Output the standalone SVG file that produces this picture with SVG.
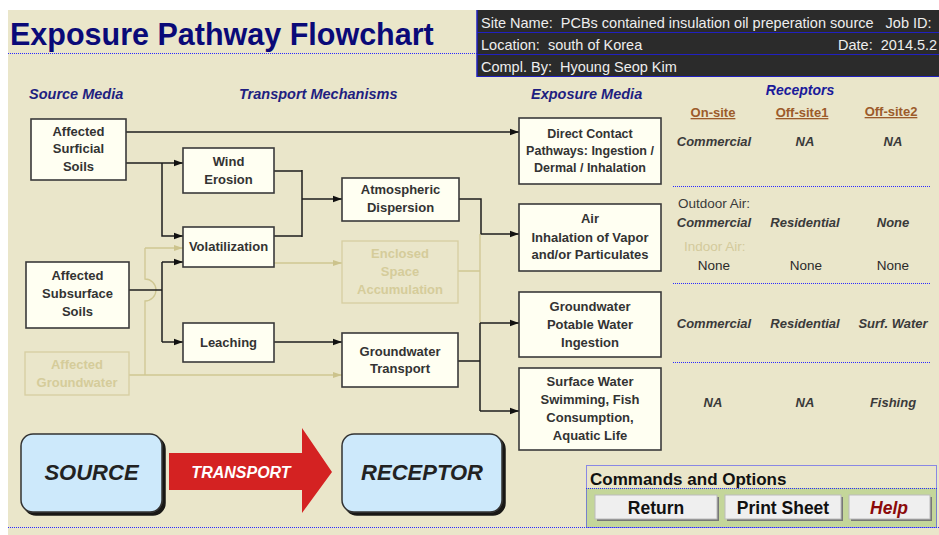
<svg xmlns="http://www.w3.org/2000/svg" width="939" height="535" viewBox="0 0 939 535">
<style>
.bg{fill:#EAE6CA}
.box{fill:#FFFFF2;stroke:#3A3A3A;stroke-width:1.6}
.fbox{fill:none;stroke:#D6CEA0;stroke-width:1.3}
.nt{font-family:"Liberation Sans",Arial,sans-serif;font-weight:bold;font-size:13px;fill:#333;text-anchor:middle}
.nt2{font-family:"Liberation Sans",Arial,sans-serif;font-weight:bold;font-size:12.5px;fill:#333;text-anchor:middle}
.ft{font-family:"Liberation Sans",Arial,sans-serif;font-weight:bold;font-size:13px;fill:#D5CC9A;text-anchor:middle}
.sec{font-family:"Liberation Sans",Arial,sans-serif;font-weight:bold;font-style:italic;font-size:14.5px;fill:#1F1F80}
.rec{font-family:"Liberation Sans",Arial,sans-serif;font-weight:bold;font-style:italic;font-size:14px;fill:#1A1A9A;text-anchor:middle}
.hd{font-family:"Liberation Sans",Arial,sans-serif;font-size:14.5px;fill:#EEEEEE}
.col{font-family:"Liberation Sans",Arial,sans-serif;font-weight:bold;font-size:13px;fill:#9C5B2A;text-anchor:middle;text-decoration:underline}
.rc{font-family:"Liberation Sans",Arial,sans-serif;font-weight:bold;font-style:italic;font-size:13px;fill:#3A3A3A;text-anchor:middle}
.rr{font-family:"Liberation Sans",Arial,sans-serif;font-size:13.5px;fill:#2A2A2A;text-anchor:middle}
.lab{font-family:"Liberation Sans",Arial,sans-serif;font-size:13.5px;fill:#3A3A3A}
.labf{font-family:"Liberation Sans",Arial,sans-serif;font-size:13.5px;fill:#D3CA9C}
.dot{stroke:#2A2AFF;stroke-width:1;stroke-dasharray:1 1;fill:none}
.ln{stroke:#1E1E1E;stroke-width:1.5;fill:none}
.fl{stroke:#CFC792;stroke-width:1.3;fill:none}
.big{font-family:"Liberation Sans",Arial,sans-serif;font-weight:bold;font-style:italic;font-size:22px;fill:#222;text-anchor:middle}
.tr{font-family:"Liberation Sans",Arial,sans-serif;font-weight:bold;font-style:italic;font-size:16px;fill:#FFFFFF;text-anchor:middle}
.btn{fill:#EFEFEF;stroke:#BBB;stroke-width:1}
.bsh{fill:#777}
.bt{font-family:"Liberation Sans",Arial,sans-serif;font-weight:bold;font-size:17.5px;fill:#111;text-anchor:middle}
.help{font-family:"Liberation Sans",Arial,sans-serif;font-weight:bold;font-style:italic;font-size:17.5px;fill:#8B0A0A;text-anchor:middle}
.cmd{font-family:"Liberation Sans",Arial,sans-serif;font-weight:bold;font-size:17px;fill:#111}
.title{font-family:"Liberation Sans",Arial,sans-serif;font-weight:bold;font-size:30.5px;fill:#0A0A78}
</style>
<defs>
<marker id="ah" markerUnits="userSpaceOnUse" markerWidth="10" markerHeight="8" refX="9" refY="4" orient="auto">
<path d="M0,0.8 L9,4 L0,7.2 Z" fill="#111"/>
</marker>
<marker id="fah" markerUnits="userSpaceOnUse" markerWidth="10" markerHeight="8" refX="9" refY="4" orient="auto">
<path d="M0,1 L9,4 L0,7 Z" fill="#CCC38C"/>
</marker>
<filter id="sh" x="-10%" y="-10%" width="130%" height="130%">
<feOffset dx="3" dy="3" in="SourceAlpha" result="o"/>
<feComponentTransfer in="o" result="o2"><feFuncA type="linear" slope="0.9"/></feComponentTransfer>
<feMerge><feMergeNode in="o2"/><feMergeNode in="SourceGraphic"/></feMerge>
</filter>
</defs>

<rect x="0" y="0" width="939" height="535" fill="#FFFFFF"/>
<rect class="bg" x="8" y="10" width="931" height="525"/>

<!-- Title -->
<text class="title" x="10" y="45">Exposure Pathway Flowchart</text>
<line class="dot" x1="8" y1="53.5" x2="477" y2="53.5"/>

<!-- Header info -->
<g id="header">
<rect x="477" y="10" width="462" height="67" fill="#2B2B2B"/>
<line x1="477" y1="10" x2="477" y2="77" stroke="#2020C0" stroke-width="1.5"/>
<line x1="477" y1="32.5" x2="939" y2="32.5" stroke="#2020C0" stroke-width="1"/>
<line x1="477" y1="54.5" x2="939" y2="54.5" stroke="#2020C0" stroke-width="1"/>
<line x1="477" y1="76.5" x2="939" y2="76.5" stroke="#2020C0" stroke-width="1.2"/>
<text class="hd" x="481" y="28" xml:space="preserve">Site Name:  PCBs contained insulation oil preperation source   Job ID:</text>
<text class="hd" x="481" y="50" xml:space="preserve">Location:  south of Korea</text>
<text class="hd" x="838" y="50" xml:space="preserve">Date:  2014.5.2</text>
<text class="hd" x="481" y="72" xml:space="preserve">Compl. By:  Hyoung Seop Kim</text>
</g>

<!-- Section headers -->
<text class="sec" x="29" y="99">Source Media</text>
<text class="sec" x="239" y="99">Transport Mechanisms</text>
<text class="sec" x="531" y="99">Exposure Media</text>
<text class="rec" x="800" y="95">Receptors</text>

<!-- Connectors -->
<g id="connectors">
<path class="ln" d="M126,132 H519" marker-end="url(#ah)"/>
<path class="ln" d="M126,163 H183" marker-end="url(#ah)"/>
<path class="ln" d="M162,163 V236 H183" marker-end="url(#ah)"/>
<path class="ln" d="M274,171 H302 M274,236 H302 M302,170 V237"/>
<path class="ln" d="M302,199 H342" marker-end="url(#ah)"/>
<path class="ln" d="M459,199 H481 V234 H519" marker-end="url(#ah)"/>
<path class="fl" d="M274,263 H342" marker-end="url(#fah)"/>
<path class="fl" d="M458,271 H480 M480,234 V323"/>
<path class="fl" d="M145,248 V279 A11,11 0 0 1 145,301 V375"/>
<path class="fl" d="M145,248 H183" marker-end="url(#fah)"/>
<path class="fl" d="M129,375 H342" marker-end="url(#fah)"/>
<path class="ln" d="M129,290 H162"/>
<path class="ln" d="M162,262 V342"/>
<path class="ln" d="M162,262 H183" marker-end="url(#ah)"/>
<path class="ln" d="M162,342 H183" marker-end="url(#ah)"/>
<path class="ln" d="M274,342 H342" marker-end="url(#ah)"/>
<path class="ln" d="M458,361 H480 M480,323 V411"/>
<path class="ln" d="M480,323 H519" marker-end="url(#ah)"/>
<path class="ln" d="M480,411 H519" marker-end="url(#ah)"/>
</g>

<!-- Source nodes -->
<g id="surficial-soils">
<rect class="box" x="31" y="119" width="95" height="61"/>
<text class="nt" x="78.5" y="136">Affected</text>
<text class="nt" x="78.5" y="153">Surficial</text>
<text class="nt" x="78.5" y="171">Soils</text>
</g>
<g id="subsurface-soils">
<rect class="box" x="26" y="262" width="103" height="66"/>
<text class="nt" x="77.5" y="280">Affected</text>
<text class="nt" x="77.5" y="298">Subsurface</text>
<text class="nt" x="77.5" y="316">Soils</text>
</g>
<g id="affected-groundwater">
<rect class="fbox" x="25" y="352" width="104" height="43"/>
<text class="ft" x="77" y="369">Affected</text>
<text class="ft" x="77" y="387">Groundwater</text>
</g>

<!-- Transport nodes -->
<g id="wind-erosion">
<rect class="box" x="183" y="148" width="91" height="45"/>
<text class="nt" x="228.5" y="166">Wind</text>
<text class="nt" x="228.5" y="184">Erosion</text>
</g>
<g id="volatilization">
<rect class="box" x="183" y="227" width="91" height="40"/>
<text class="nt" x="228.5" y="251">Volatilization</text>
</g>
<g id="leaching">
<rect class="box" x="183" y="323" width="91" height="39"/>
<text class="nt" x="228.5" y="347">Leaching</text>
</g>
<g id="atmospheric-dispersion">
<rect class="box" x="342" y="178" width="117" height="43"/>
<text class="nt" x="400.5" y="194">Atmospheric</text>
<text class="nt" x="400.5" y="212">Dispersion</text>
</g>
<g id="enclosed-space">
<rect class="fbox" x="342" y="241" width="116" height="62"/>
<text class="ft" x="400" y="258">Enclosed</text>
<text class="ft" x="400" y="276">Space</text>
<text class="ft" x="400" y="294">Accumulation</text>
</g>
<g id="groundwater-transport">
<rect class="box" x="342" y="333" width="116" height="54"/>
<text class="nt" x="400" y="356">Groundwater</text>
<text class="nt" x="400" y="373">Transport</text>
</g>

<!-- Exposure media -->
<g id="direct-contact">
<rect class="box" x="519" y="118" width="142" height="66"/>
<text class="nt2" x="590" y="138">Direct Contact</text>
<text class="nt2" x="590" y="155">Pathways: Ingestion /</text>
<text class="nt2" x="590" y="172">Dermal / Inhalation</text>
</g>
<g id="air">
<rect class="box" x="519" y="204" width="142" height="67"/>
<text class="nt" x="590" y="223">Air</text>
<text class="nt" x="590" y="242">Inhalation of Vapor</text>
<text class="nt" x="590" y="259">and/or Particulates</text>
</g>
<g id="groundwater-potable">
<rect class="box" x="519" y="292" width="142" height="65"/>
<text class="nt" x="590" y="311">Groundwater</text>
<text class="nt" x="590" y="329">Potable Water</text>
<text class="nt" x="590" y="347">Ingestion</text>
</g>
<g id="surface-water">
<rect class="box" x="519" y="368" width="142" height="82"/>
<text class="nt" x="590" y="386">Surface Water</text>
<text class="nt" x="590" y="404">Swimming, Fish</text>
<text class="nt" x="590" y="422">Consumption,</text>
<text class="nt" x="590" y="440">Aquatic Life</text>
</g>

<!-- Receptors table -->
<g id="receptors">
<text class="col" x="713" y="117">On-site</text>
<text class="col" x="802" y="117">Off-site1</text>
<text class="col" x="891" y="116">Off-site2</text>
<text class="rc" x="714" y="146">Commercial</text>
<text class="rc" x="805" y="146">NA</text>
<text class="rc" x="893" y="146">NA</text>
<line class="dot" x1="673" y1="186.5" x2="930" y2="186.5"/>
<text class="lab" x="678" y="208">Outdoor Air:</text>
<text class="rc" x="714" y="227">Commercial</text>
<text class="rc" x="805" y="227">Residential</text>
<text class="rc" x="893" y="227">None</text>
<text class="labf" x="684" y="251">Indoor Air:</text>
<text class="rr" x="714" y="270">None</text>
<text class="rr" x="806" y="270">None</text>
<text class="rr" x="893" y="270">None</text>
<line class="dot" x1="673" y1="283.5" x2="930" y2="283.5"/>
<text class="rc" x="714" y="328">Commercial</text>
<text class="rc" x="805" y="328">Residential</text>
<text class="rc" x="893" y="328">Surf. Water</text>
<line class="dot" x1="673" y1="362.5" x2="930" y2="362.5"/>
<text class="rc" x="713" y="407">NA</text>
<text class="rc" x="805" y="407">NA</text>
<text class="rc" x="893" y="407">Fishing</text>
</g>

<!-- Legend -->
<g id="source-legend">
<rect x="21" y="434" width="141" height="78" rx="12" ry="12" fill="#CDE9FB" stroke="#333" stroke-width="1.5" filter="url(#sh)"/>
<text class="big" x="91.5" y="480">SOURCE</text>
</g>
<g id="transport-legend">
<path d="M169,453 H302 V428 L332,472 L302,513 V490 H169 Z" fill="#D42222"/>
<text class="tr" x="241" y="478">TRANSPORT</text>
</g>
<g id="receptor-legend">
<rect x="342" y="434" width="160" height="78" rx="12" ry="12" fill="#CDE9FB" stroke="#333" stroke-width="1.5" filter="url(#sh)"/>
<text class="big" x="422" y="480">RECEPTOR</text>
</g>
<line class="dot" x1="8" y1="527.5" x2="939" y2="527.5"/>

<!-- Commands -->
<g id="commands">
<rect x="586" y="488" width="351" height="39" fill="#C4D69A"/>
<rect class="dot" x="586.5" y="465.5" width="350" height="62"/>
<line class="dot" x1="586" y1="488.5" x2="937" y2="488.5"/>
<text class="cmd" x="590" y="485">Commands and Options</text>
<rect class="bsh" x="597" y="497" width="122" height="24"/>
<rect class="btn" x="595" y="495" width="122" height="24"/>
<text class="bt" x="656" y="514">Return</text>
<rect class="bsh" x="727" y="497" width="116" height="24"/>
<rect class="btn" x="725" y="495" width="116" height="24"/>
<text class="bt" x="783" y="514">Print Sheet</text>
<rect class="bsh" x="851" y="497" width="81" height="24"/>
<rect class="btn" x="849" y="495" width="81" height="24"/>
<text class="help" x="889" y="514">Help</text>
</g>
</svg>
